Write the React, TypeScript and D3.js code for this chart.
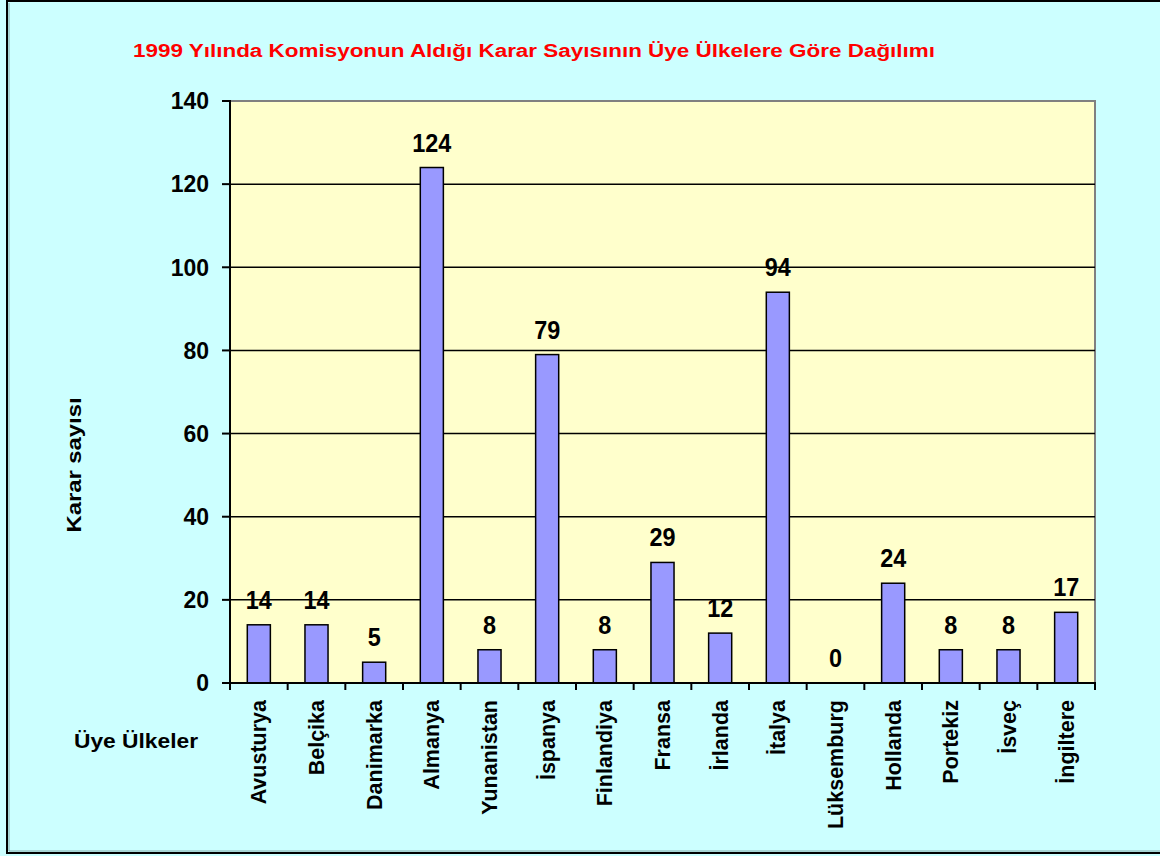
import React from "react";
import * as d3 from "d3";

const title = "1999 Yılında Komisyonun Aldığı Karar Sayısının Üye Ülkelere Göre Dağılımı";
const yTitle = "Karar sayısı";
const xTitle = "Üye Ülkeler";
const categories = [
  "Avusturya", "Belçika", "Danimarka", "Almanya", "Yunanistan", "İspanya", "Finlandiya",
  "Fransa", "İrlanda", "İtalya", "Lüksemburg", "Hollanda", "Portekiz", "İsveç", "İngiltere",
];
const values = [14, 14, 5, 124, 8, 79, 8, 29, 12, 94, 0, 24, 8, 8, 17];
const yTicks = [0, 20, 40, 60, 80, 100, 120, 140];

const W = 1160;
const H = 856;
const left = 230;
const right = 1095;
const top = 101;
const bottom = 683;
const font = "Arial, 'Liberation Sans', sans-serif";

export default function App() {
  const x = d3.scaleBand<string>().domain(categories).range([left, right]).paddingInner(0.6).paddingOuter(0.3);
  const y = d3.scaleLinear().domain([0, 140]).range([bottom, top]);
  const bandEdges = d3.range(categories.length + 1).map((i) => left + i * ((right - left) / categories.length));
  return (
    <svg width={W} height={H} style={{ position: "absolute", left: 0, top: 0 }} fontFamily={font}>
      <rect x={0} y={0} width={W} height={H} fill="#CCFFFF" />
      <rect x={7} y={1} width={W + 10} height={852} fill="none" stroke="#000" strokeWidth={2} />
      <line x1={9} y1={3} x2={9} y2={851} stroke="#7fa8a8" strokeWidth={1} />
      <line x1={9} y1={851} x2={W} y2={851} stroke="#7fa8a8" strokeWidth={1} />
      <text x={534} y={57} textAnchor="middle" fill="#FF0000" fontWeight="bold" fontSize={18}
        textLength={802} lengthAdjust="spacingAndGlyphs">{title}</text>
      <rect x={left} y={top} width={right - left} height={bottom - top} fill="#FFFFCC" stroke="#808080" strokeWidth={2} />
      {yTicks.filter((t) => t > 0 && t < 140).map((t) => (
        <line key={"g" + t} x1={left} x2={right} y1={y(t)} y2={y(t)} stroke="#000" strokeWidth={1.5} />
      ))}
      {categories.map((c, i) => (
        <rect key={"b" + c} x={x(c)!} y={y(values[i])} width={x.bandwidth()} height={bottom - y(values[i])}
          fill="#9999FF" stroke="#000" strokeWidth={1.5} />
      ))}
      <line x1={left} x2={left} y1={top - 1} y2={bottom} stroke="#000" strokeWidth={2} />
      <line x1={left - 1} x2={right + 1} y1={bottom} y2={bottom} stroke="#000" strokeWidth={2} />
      {yTicks.map((t) => (
        <g key={"t" + t}>
          <line x1={left - 8} x2={left} y1={y(t)} y2={y(t)} stroke="#000" strokeWidth={2} />
          <text x={209} y={y(t)} dy="0.36em" textAnchor="end" fontWeight="bold" fontSize={23}>{t}</text>
        </g>
      ))}
      {bandEdges.map((e, i) => (
        <line key={"xt" + i} x1={e} x2={e} y1={bottom} y2={bottom + 7} stroke="#000" strokeWidth={2} />
      ))}
      {categories.map((c, i) => (
        <text key={"v" + c} transform={`translate(${x(c)! + x.bandwidth() / 2},${y(values[i]) - 16}) scale(0.9,1)`}
          textAnchor="middle" fontWeight="bold" fontSize={26}>{values[i]}</text>
      ))}
      {categories.map((c) => (
        <text key={"l" + c} transform={`translate(${x(c)! + x.bandwidth() / 2},700) rotate(-90)`}
          dy="0.35em" textAnchor="end" fontWeight="bold" fontSize={21.5}>{c}</text>
      ))}
      <text transform="translate(81,465) rotate(-90)" textAnchor="middle" fontWeight="bold" fontSize={21}
        textLength={135} lengthAdjust="spacingAndGlyphs">{yTitle}</text>
      <text x={74} y={748} fontWeight="bold" fontSize={21} textLength={124} lengthAdjust="spacingAndGlyphs">{xTitle}</text>
    </svg>
  );
}
